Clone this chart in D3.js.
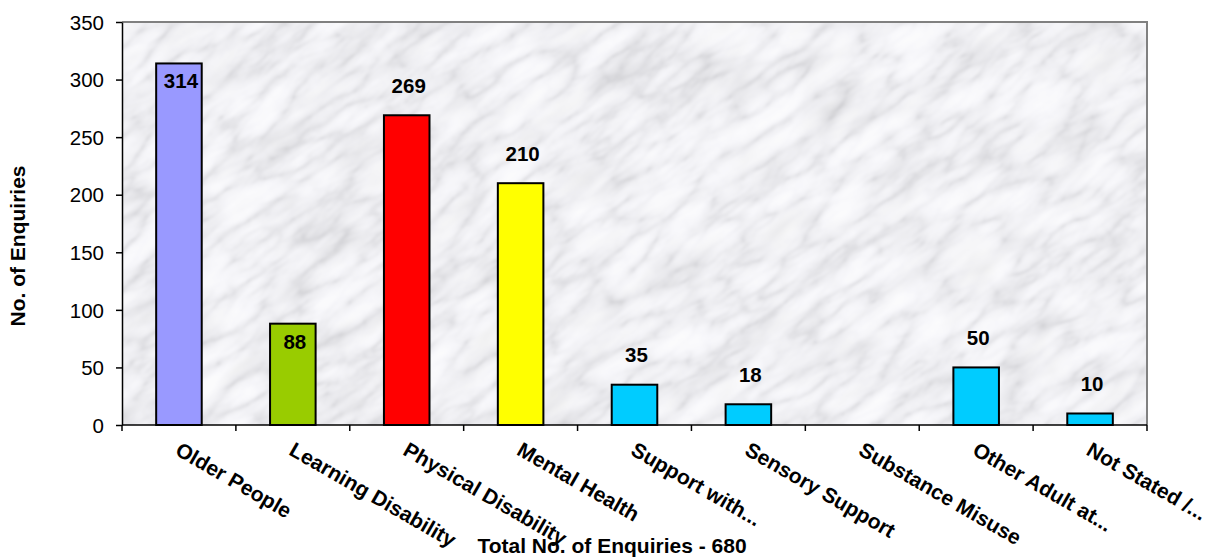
<!DOCTYPE html>
<html><head><meta charset="utf-8">
<script src="https://cdn.jsdelivr.net/npm/d3@7"></script>
<style>html,body{margin:0;padding:0;background:#fff;}svg{display:block;font-family:"Liberation Sans",Arial,sans-serif;}</style>
</head><body>
<svg id="c" width="1211" height="557"></svg>
<script>
const categories = ["Older People","Learning Disability","Physical Disability","Mental Health","Support with...","Sensory Support","Substance Misuse","Other Adult at...","Not Stated /..."];
const values = [314, 88, 269, 210, 35, 18, null, 50, 10];
const barColors = ["#9999FF","#99CC00","#FF0000","#FFFF00","#00CCFF","#00CCFF","#00CCFF","#00CCFF","#00CCFF"];
const yTicks = [0,50,100,150,200,250,300,350];
const insideLabels = ["Older People","Learning Disability"];
const yTitle = "No. of Enquiries";
const xTitle = "Total No. of Enquiries - 680";

const svg = d3.select("#c");
const L = 122, R = 1147, T = 22, B = 425;
const x = d3.scaleBand().domain(categories).range([L, R]).paddingInner(0).paddingOuter(0);
const y = d3.scaleLinear().domain([0, 350]).range([B, T]);

const defs = svg.append("defs");
defs.append("clipPath").attr("id","plotclip").append("rect").attr("x",L).attr("y",T).attr("width",R-L).attr("height",B-T);
const f = defs.append("filter").attr("id","marble").attr("x",0).attr("y",0).attr("width","100%").attr("height","100%").attr("filterUnits","objectBoundingBox");
// fine veins
f.append("feTurbulence").attr("type","turbulence").attr("baseFrequency","0.014 0.04").attr("numOctaves",4).attr("seed",11).attr("result","n");
f.append("feColorMatrix").attr("type","matrix").attr("in","n")
  .attr("values","1 0 0 0 0  1 0 0 0 0  1 0 0 0 0  0 0 0 0 1").attr("result","g");
const ct = f.append("feComponentTransfer").attr("in","g").attr("result","veins");
const tv = "0.70 0.79 0.86 0.90 0.93 0.95 0.96 0.97 0.97 0.97";
const tvb = "0.73 0.82 0.89 0.93 0.96 0.97 0.98 0.98 0.98 0.98";
ct.append("feFuncR").attr("type","table").attr("tableValues",tv);
ct.append("feFuncG").attr("type","table").attr("tableValues",tv);
ct.append("feFuncB").attr("type","table").attr("tableValues",tvb);
// soft patches
f.append("feTurbulence").attr("type","fractalNoise").attr("baseFrequency","0.012 0.03").attr("numOctaves",3).attr("seed",4).attr("result","p");
f.append("feColorMatrix").attr("type","matrix").attr("in","p")
  .attr("values","1 0 0 0 0  1 0 0 0 0  1 0 0 0 0  0 0 0 0 1").attr("result","pg");
const ct2 = f.append("feComponentTransfer").attr("in","pg").attr("result","patches");
const pv = "0.80 0.86 0.92 0.97 1 1 1 1";
ct2.append("feFuncR").attr("type","table").attr("tableValues",pv);
ct2.append("feFuncG").attr("type","table").attr("tableValues",pv);
ct2.append("feFuncB").attr("type","table").attr("tableValues",pv);
f.append("feBlend").attr("mode","multiply").attr("in","veins").attr("in2","patches").attr("result","m");
f.append("feGaussianBlur").attr("in","m").attr("stdDeviation",0.8);

const bg = svg.append("g").attr("clip-path","url(#plotclip)");
bg.append("rect").attr("x",L).attr("y",T).attr("width",R-L).attr("height",B-T).attr("fill","#e2e2e6");
bg.append("g").attr("transform",`rotate(-35 ${(L+R)/2} ${(T+B)/2})`)
  .append("rect").attr("x",L-300).attr("y",T-500).attr("width",R-L+600).attr("height",B-T+1000).attr("filter","url(#marble)");

// frame top/right
svg.append("path").attr("d",`M${L},${T}H${R}V${B}`).attr("fill","none").attr("stroke","#808080").attr("stroke-width",2);

// bars
const bw = x.bandwidth()*0.4;
const data = categories.map((c,i)=>({c, v: values[i], col: barColors[i]})).filter(d=>d.v!=null);
svg.append("g").selectAll("rect").data(data).join("rect")
  .attr("x", d=>x(d.c)+x.bandwidth()*0.3).attr("width", bw)
  .attr("y", d=>y(d.v)).attr("height", d=>y(0)-y(d.v))
  .attr("fill", d=>d.col).attr("stroke","#000").attr("stroke-width",2);

// data labels
svg.append("g").selectAll("text").data(data).join("text")
  .attr("x", d=>x(d.c)+x.bandwidth()/2+2)
  .attr("y", d=> insideLabels.includes(d.c) ? y(d.v)+25 : y(d.v)-22.5)
  .attr("text-anchor","middle").attr("font-size",20.5).attr("font-weight","bold").attr("fill","#000")
  .text(d=>d.v);

// y axis
const ya = svg.append("g").attr("transform",`translate(${L},0)`)
  .call(d3.axisLeft(y).tickValues(yTicks).tickSize(6).tickPadding(12).tickSizeOuter(0));
ya.select(".domain").attr("stroke","#000").attr("stroke-width",1.5);
ya.selectAll(".tick line").attr("stroke","#000").attr("stroke-width",1.5);
ya.selectAll(".tick text").attr("font-size",20.5).attr("font-family","Liberation Sans, Arial, sans-serif").attr("fill","#000").attr("dy","0.35em");

// x axis
const xa = svg.append("g").attr("transform",`translate(0,${B})`);
xa.append("line").attr("x1",L).attr("x2",R).attr("stroke","#000").attr("stroke-width",1.5);
const bounds = categories.map(c=>x(c)).concat([R]);
xa.selectAll(".xt").data(bounds).join("line").attr("class","xt")
  .attr("x1",d=>d).attr("x2",d=>d).attr("y1",0).attr("y2",6).attr("stroke","#000").attr("stroke-width",1.5);
xa.selectAll(".xl").data(categories).join("text").attr("class","xl")
  .attr("transform", d=>`translate(${x(d)+x.bandwidth()/2-5},29) rotate(30)`)
  .attr("font-size",21).attr("font-weight","bold").attr("fill","#000").text(d=>d);

// titles
svg.append("text").attr("transform",`translate(25,246) rotate(-90)`).attr("text-anchor","middle")
  .attr("font-size",21).attr("font-weight","bold").text(yTitle);
svg.append("text").attr("x",612).attr("y",553).attr("text-anchor","middle")
  .attr("font-size",21).attr("font-weight","bold").text(xTitle);
</script>
</body></html>
